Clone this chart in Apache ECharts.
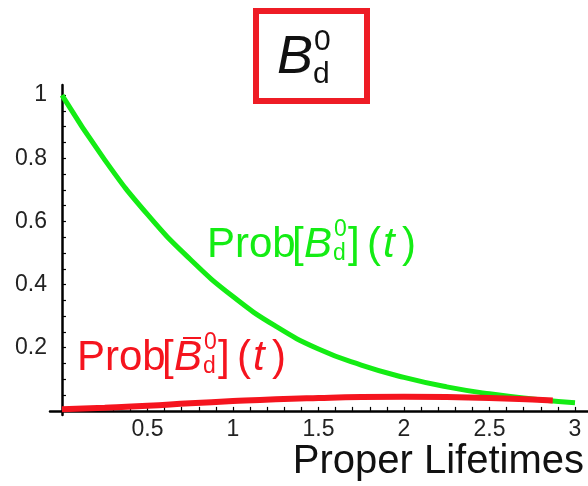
<!DOCTYPE html>
<html><head><meta charset="utf-8">
<script src="https://cdn.jsdelivr.net/npm/echarts@6/dist/echarts.min.js"></script>
<style>html,body{margin:0;padding:0;background:#fff}#c{width:588px;height:486px}</style>
</head><body><div id="c"></div>
<script>
// ---- data ----
const tGreen = [0, 0.25, 0.5, 0.75, 1, 1.25, 1.5, 1.75, 2, 2.25, 2.5, 2.75, 3];
const probB = [1.0, 0.795, 0.622, 0.480, 0.362, 0.268, 0.196, 0.145, 0.106, 0.076, 0.054, 0.038, 0.026];
const tRed = [0, 0.25, 0.5, 0.75, 1, 1.25, 1.5, 1.75, 2, 2.25, 2.5, 2.75, 2.87];
const probBbar = [0.005, 0.010, 0.016, 0.024, 0.031, 0.037, 0.041, 0.044, 0.045, 0.044, 0.041, 0.036, 0.033];
const xTickLabels = [0.5, 1, 1.5, 2, 2.5, 3];
const yTickLabels = [0.2, 0.4, 0.6, 0.8, 1];
const xMinorTicks = [0.1,0.2,0.3,0.4,0.5,0.6,0.7,0.8,0.9,1,1.1,1.2,1.3,1.4,1.5,1.6,1.7,1.8,1.9,2,2.1,2.2,2.3,2.4,2.5,2.6,2.7,2.8,2.9,3];
const yMinorTicks = [0.05,0.1,0.15,0.2,0.25,0.3,0.35,0.4,0.45,0.5,0.55,0.6,0.65,0.7,0.75,0.8,0.85,0.9,0.95,1];
const xAxisName = 'Proper Lifetimes';

const GREEN = '#14ec14', RED = '#f5141e';
const FONT = '"Liberation Sans", Arial, Helvetica, sans-serif';
function txt(text, x, base, size, it, color) {
  return { type: 'text', x: x, y: base - 0.3465 * size, z: 100,
    style: { text: text, font: (it ? 'italic ' : '') + size + 'px ' + FONT, fill: color, align: 'left', verticalAlign: 'middle' } };
}
// label laid out as pieces with offsets (dx from start, baseline shift)
function mathLabel(x0, base, s, ss, color, withBar) {
  const els = [
    txt('Prob', x0, base, s, false, color),
    txt('[', x0 + 85, base, s, false, color),
    txt('B', x0 + 97, base, s, true, color),
    txt('0', x0 + 127, base - 22, ss, false, color),
    txt('d', x0 + 126, base + 2, ss, false, color),
    txt(']', x0 + 141, base, s, false, color),
    txt('(', x0 + 160, base, s, false, color),
    txt('t', x0 + 176, base, s, true, color),
    txt(')', x0 + 195, base, s, false, color)
  ];
  if (withBar) {
    els.push({ type: 'line', z: 100, shape: { x1: x0 + 106, y1: base - 35, x2: x0 + 124, y2: base - 35 },
      style: { stroke: color, lineWidth: 2 } });
  }
  return els;
}

const graphics = [];
// title box
graphics.push({ type: 'rect', z: 100, shape: { x: 256, y: 11, width: 111, height: 90 }, style: { fill: 'none', stroke: '#ee1c25', lineWidth: 6 } });
graphics.push(txt('B', 277, 77, 54, true, '#111'));
graphics.push(txt('0', 314, 52, 30, false, '#111'));
graphics.push(txt('d', 313, 85, 30, false, '#111'));
// curve labels
graphics.push(...mathLabel(207, 260, 42, 23, GREEN, false));
graphics.push(...mathLabel(77, 373, 42, 23, RED, true));
// axis name
graphics.push({ type: 'text', right: 4, top: 442, z: 100,
  style: { text: xAxisName, font: '40px ' + FONT, fill: '#111' } });

const chart = echarts.init(document.getElementById('c'), null, { renderer: 'canvas' });
chart.setOption({
  backgroundColor: '#fff',
  animation: false,
  grid: { left: 50, right: 0, top: 85, bottom: 71, containLabel: false, outerBoundsMode: 'none' },
  xAxis: {
    type: 'value', min: -0.07, max: 3.076,
    axisLine: { onZero: true, lineStyle: { color: '#000', width: 2.5 } },
    axisTick: { inside: true, length: 4, customValues: xMinorTicks, lineStyle: { color: '#000', width: 1.2 } },
    axisLabel: { customValues: xTickLabels, formatter: v => String(v), fontSize: 23, fontFamily: FONT, color: '#222', margin: 3 },
    splitLine: { show: false }
  },
  yAxis: {
    type: 'value', min: -0.013, max: 1.032,
    axisLine: { onZero: true, lineStyle: { color: '#000', width: 2.5 } },
    axisTick: { inside: true, length: 4, customValues: yMinorTicks, lineStyle: { color: '#000', width: 1.2 } },
    axisLabel: { customValues: yTickLabels, formatter: v => String(v), fontSize: 23, fontFamily: FONT, color: '#222', margin: 3 },
    splitLine: { show: false }
  },
  series: [
    { type: 'line', data: tGreen.map((t, i) => [t, probB[i]]), smooth: 0.5, showSymbol: false,
      lineStyle: { color: GREEN, width: 5 }, z: 3 },
    { type: 'line', data: tRed.map((t, i) => [t, probBbar[i]]), smooth: 0.5, showSymbol: false,
      lineStyle: { color: RED, width: 6 }, z: 4 }
  ],
  graphic: graphics
});
</script></body></html>
